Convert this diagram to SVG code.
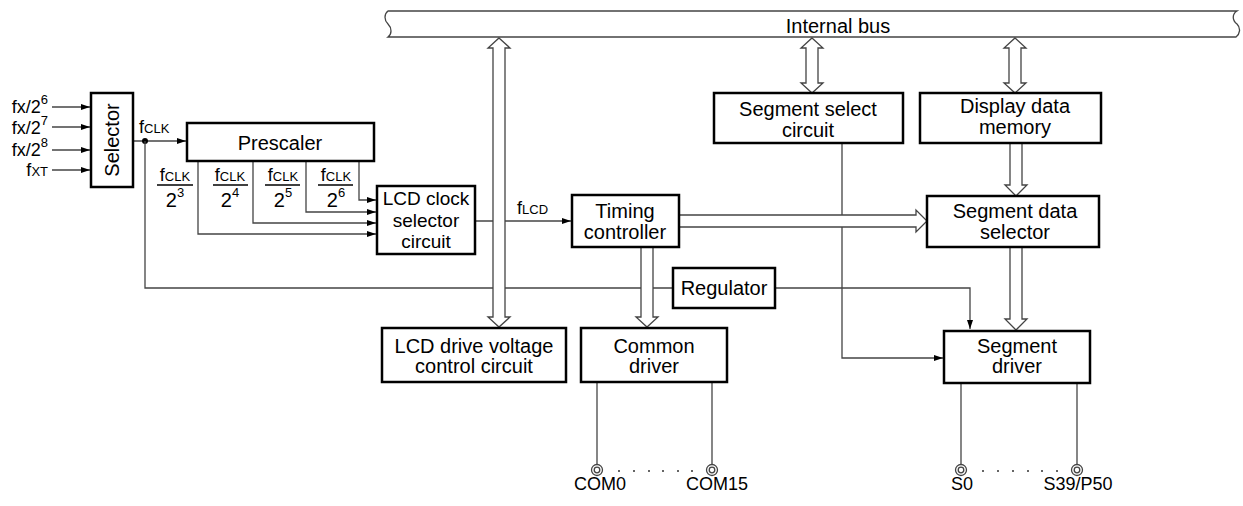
<svg xmlns="http://www.w3.org/2000/svg" width="1243" height="506" viewBox="0 0 1243 506">
<style>
text{font-family:"Liberation Sans",Arial,sans-serif;fill:#000}
.t{font-size:20px;text-anchor:middle}
.s{font-size:18px}
.sub{font-size:13px}
.box{fill:#fff;stroke:#000;stroke-width:2.5}
.ln{fill:none;stroke:#444;stroke-width:1.3}
.ha{fill:#fff;stroke:#444;stroke-width:1.3}
.fr{stroke:#000;stroke-width:1.3}
.pin{fill:#fff;stroke:#444;stroke-width:1.3}
.dot{fill:#333}
</style>
<defs>
<marker id="ah" markerWidth="10" markerHeight="8" refX="9" refY="4" orient="auto" markerUnits="userSpaceOnUse"><path d="M0,1 L9,4 L0,7 Z" fill="#000"/></marker>
</defs>
<rect width="1243" height="506" fill="#fff"/>

<g id="bus">
<path d="M388 11 H1237 C1232 14 1232 20 1237 24 C1241 28 1240 34 1236 37 H388 C392 34 392 28 388 24 C384 20 384 14 388 11 Z" fill="#fff" stroke="#444" stroke-width="1.3"/>
<text class="t" x="838" y="33">Internal bus</text>
</g>

<g id="connectors">
<path class="ln" d="M52 107 H90" marker-end="url(#ah)"/>
<path class="ln" d="M52 127 H90" marker-end="url(#ah)"/>
<path class="ln" d="M52 150 H90" marker-end="url(#ah)"/>
<path class="ln" d="M52 170 H90" marker-end="url(#ah)"/>
<path class="ln" d="M133 141 H186" marker-end="url(#ah)"/>
<circle cx="145" cy="141" r="3" fill="#000"/>
<path class="ln" d="M145 141 V288 H673"/>
<path class="ln" d="M775 288 H970 V329" marker-end="url(#ah)"/>
<path class="ln" d="M198 161 V234 H376" marker-end="url(#ah)"/>
<path class="ln" d="M253 161 V223 H376" marker-end="url(#ah)"/>
<path class="ln" d="M306 161 V212 H376" marker-end="url(#ah)"/>
<path class="ln" d="M359 161 V200 H376" marker-end="url(#ah)"/>
<path class="ln" d="M475 221 H571" marker-end="url(#ah)"/>
<path class="ln" d="M842 143 V358 H943" marker-end="url(#ah)"/>
<path class="ln" d="M597 382 V465"/>
<path class="ln" d="M712 382 V465"/>
<path class="ln" d="M961 383 V465"/>
<path class="ln" d="M1077 383 V465"/>

<path class="ha" d="M499 38 L510 48 H505 V317 H510 L499 327 L488 317 H493 V48 H488 Z"/>
<path class="ha" d="M812 38 L823 48 H818 V83 H823 L812 93 L801 83 H806 V48 H801 Z"/>
<path class="ha" d="M1015 38 L1026 48 H1021 V83 H1026 L1015 93 L1004 83 H1009 V48 H1004 Z"/>
<path class="ha" d="M1010 143 V185 H1005 L1016 196 L1027 185 H1022 V143"/>
<path class="ha" d="M1010 247 V319 H1005 L1016 330 L1027 319 H1022 V247"/>
<path class="ha" d="M641 247 V317 H636 L647 327 L658 317 H653 V247"/>
<path class="ha" d="M679 215 H916 V210 L927 221 L916 232 V227 H679"/>

<circle class="pin" cx="597" cy="470" r="5.5"/><circle class="pin" cx="597" cy="470" r="2.8"/>
<circle class="pin" cx="712" cy="470" r="5.5"/><circle class="pin" cx="712" cy="470" r="2.8"/>
<circle class="pin" cx="961" cy="470" r="5.5"/><circle class="pin" cx="961" cy="470" r="2.8"/>
<circle class="pin" cx="1077" cy="470" r="5.5"/><circle class="pin" cx="1077" cy="470" r="2.8"/>
<g class="dot">
<circle cx="619" cy="471" r="1"/><circle cx="634" cy="471" r="1"/><circle cx="649" cy="471" r="1"/><circle cx="663" cy="471" r="1"/><circle cx="678" cy="471" r="1"/><circle cx="692" cy="471" r="1"/>
<circle cx="983" cy="471" r="1"/><circle cx="998" cy="471" r="1"/><circle cx="1013" cy="471" r="1"/><circle cx="1028" cy="471" r="1"/><circle cx="1042" cy="471" r="1"/><circle cx="1057" cy="471" r="1"/>
</g>
</g>

<g id="labels">
<text class="s" x="48" y="113" text-anchor="end">fx/2<tspan class="sub" dy="-9">6</tspan></text>
<text class="s" x="48" y="134" text-anchor="end">fx/2<tspan class="sub" dy="-9">7</tspan></text>
<text class="s" x="48" y="156" text-anchor="end">fx/2<tspan class="sub" dy="-9">8</tspan></text>
<text class="s" x="48" y="176" text-anchor="end">f<tspan class="sub">XT</tspan></text>
<text class="s" x="139" y="133">f<tspan class="sub">CLK</tspan></text>
<text class="s" x="517" y="214">f<tspan class="sub">LCD</tspan></text>

<text class="s" x="175" y="181" text-anchor="middle">f<tspan class="sub">CLK</tspan></text>
<path class="fr" d="M157 185 H193"/>
<text class="t" x="175" y="207">2<tspan class="sub" dy="-10">3</tspan></text>
<text class="s" x="230" y="181" text-anchor="middle">f<tspan class="sub">CLK</tspan></text>
<path class="fr" d="M213 185 H248"/>
<text class="t" x="230" y="207">2<tspan class="sub" dy="-10">4</tspan></text>
<text class="s" x="283" y="181" text-anchor="middle">f<tspan class="sub">CLK</tspan></text>
<path class="fr" d="M265 185 H300"/>
<text class="t" x="283" y="207">2<tspan class="sub" dy="-10">5</tspan></text>
<text class="s" x="336" y="181" text-anchor="middle">f<tspan class="sub">CLK</tspan></text>
<path class="fr" d="M318 185 H353"/>
<text class="t" x="336" y="207">2<tspan class="sub" dy="-10">6</tspan></text>

<text class="s" x="600" y="490" text-anchor="middle">COM0</text>
<text class="s" x="717" y="490" text-anchor="middle">COM15</text>
<text class="s" x="962" y="490" text-anchor="middle">S0</text>
<text class="s" x="1078" y="490" text-anchor="middle">S39/P50</text>
</g>

<g id="selector">
<rect class="box" x="91" y="93" width="42" height="94"/>
<text class="t" transform="rotate(-90 112 140)" x="112" y="147">Selector</text>
</g>
<g id="prescaler">
<rect class="box" x="187" y="123" width="187" height="38"/>
<text class="t" x="280" y="150">Prescaler</text>
</g>
<g id="lcd-clock-selector">
<rect class="box" x="377" y="186" width="98" height="68"/>
<text class="t" x="426" y="205" style="font-size:19px">LCD clock</text>
<text class="t" x="426" y="227" style="font-size:19px">selector</text>
<text class="t" x="426" y="248" style="font-size:19px">circuit</text>
</g>
<g id="timing-controller">
<rect class="box" x="572" y="195" width="107" height="52"/>
<text class="t" x="625" y="218">Timing</text>
<text class="t" x="625" y="239">controller</text>
</g>
<g id="segment-select">
<rect class="box" x="714" y="93" width="189" height="50"/>
<text class="t" x="808" y="116">Segment select</text>
<text class="t" x="808" y="137">circuit</text>
</g>
<g id="display-data-memory">
<rect class="box" x="920" y="93" width="181" height="50"/>
<text class="t" x="1015" y="113">Display data</text>
<text class="t" x="1015" y="134">memory</text>
</g>
<g id="segment-data-selector">
<rect class="box" x="927" y="196" width="172" height="51"/>
<text class="t" x="1015" y="218">Segment data</text>
<text class="t" x="1015" y="239">selector</text>
</g>
<g id="regulator">
<rect class="box" x="673" y="268" width="102" height="40"/>
<text class="t" x="724" y="295">Regulator</text>
</g>
<g id="lcd-drive-voltage">
<rect class="box" x="382" y="328" width="184" height="54"/>
<text class="t" x="474" y="353">LCD drive voltage</text>
<text class="t" x="474" y="373">control circuit</text>
</g>
<g id="common-driver">
<rect class="box" x="581" y="328" width="146" height="54"/>
<text class="t" x="654" y="353">Common</text>
<text class="t" x="654" y="373">driver</text>
</g>
<g id="segment-driver">
<rect class="box" x="944" y="331" width="146" height="52"/>
<text class="t" x="1017" y="353">Segment</text>
<text class="t" x="1017" y="373">driver</text>
</g>
</svg>
